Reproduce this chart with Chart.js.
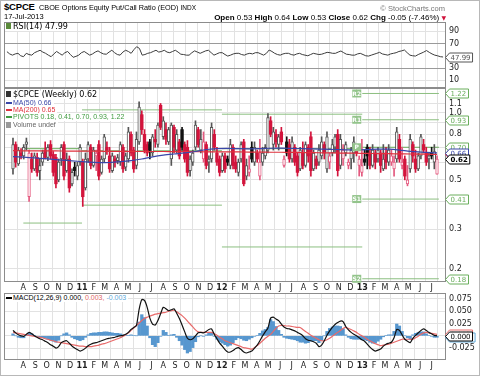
<!DOCTYPE html>
<html>
<head>
<meta charset="utf-8">
<title>$CPCE weekly</title>
<script src="https://cdn.jsdelivr.net/npm/chart.js@4.4.1/dist/chart.umd.min.js"></script>
<style>
  html, body { margin: 0; padding: 0; background: #fff; }
  #wrap { position: relative; width: 480px; height: 376px; overflow: hidden; background: #fff; }
  #wrap canvas { position: absolute; left: 0; }
  .frame { position: absolute; left: 0; top: 0; width: 478px; height: 374px; border: 1px solid #b8b8b8; }
  .t { position: absolute; white-space: nowrap; font-family: 'Liberation Sans', Arial, sans-serif; color: #000; line-height: 1; }
  .lg { position: absolute; white-space: nowrap; line-height: 8px; height: 8px; background: #fff; padding-right: 2px; font-family: 'Liberation Sans', Arial, sans-serif; font-size: 7px; }
  .dash { display: inline-block; width: 6px; height: 2px; vertical-align: middle; margin: 0 1px 1px 0; }
  .ico { display: inline-block; width: 5px; height: 6px; vertical-align: middle; margin: 0 2px 1px 0; }
</style>
</head>
<body>
<div id="wrap">
  <div class="frame"></div>
  <canvas id="rsi" width="480" height="66" style="top:22px"></canvas>
  <canvas id="price" width="480" height="206" style="top:88px"></canvas>
  <canvas id="macd" width="480" height="81" style="top:293px"></canvas>

  <div class="t" style="left:4px;top:2px;font-weight:bold;font-size:9.5px;letter-spacing:-0.2px;">$CPCE</div>
  <div class="t" style="left:39px;top:4px;font-size:7.3px;">CBOE Options Equity Put/Call Ratio (EOD) <span style="font-size:6.5px">INDX</span></div>
  <div class="t" style="left:4px;top:13px;font-size:7.5px;">17-Jul-2013</div>
  <div class="t" style="right:35px;top:5px;font-size:7.5px;color:#777;">&copy; StockCharts.com</div>
  <div class="t" style="right:34px;top:14px;font-size:8px;"><b>Open</b> 0.53 <b>High</b> 0.64 <b>Low</b> 0.53 <b>Close</b> 0.62 <b>Chg</b> -0.05 (-7.46%) <span style="color:#d0103a;font-family:'DejaVu Sans';font-size:6px">&#9660;</span></div>

  <div class="lg" style="left:6px;top:23px;font:8px 'DejaVu Sans';line-height:8px;"><span class="ico" style="background:#5a8a3a"></span>RSI(14) 47.99</div>
  <div class="lg" style="left:6px;top:91px;font:8px 'DejaVu Sans';line-height:8px;"><span class="ico" style="background:#333"></span>$CPCE (Weekly) 0.62</div>
  <div class="lg" style="left:6px;top:99px;color:#3a46a8;"><span class="dash" style="background:#3a46a8"></span>MA(50) 0.66</div>
  <div class="lg" style="left:6px;top:106px;color:#e0303c;"><span class="dash" style="background:#e0303c"></span>MA(200) 0.65</div>
  <div class="lg" style="left:6px;top:113px;color:#3f9a3f;"><span class="dash" style="background:#3f9a3f"></span>PIVOTS 0.18, 0.41, 0.70, 0.93, 1.22</div>
  <div class="lg" style="left:6px;top:121px;color:#666;"><span class="ico" style="background:#999"></span>Volume undef</div>
  <div class="lg" style="left:6px;top:294px;"><span class="dash" style="background:#000"></span>MACD(12,26,9) 0.000, <span style="color:#e06868">0.003,</span> <span style="color:#5fa8d8">-0.003</span></div>
</div>

<script>
// weekly bars, first bar = week of 5 Jul 2010
const firstWeek = Date.UTC(2010, 6, 5);

const opens = [
  .56,.72,.59,.66,.64,.72,.42,.62,.56,.63,
  .55,.60,.68,.63,.72,.65,.63,.50,.62,.72,
  .55,.62,.48,.57,.52,.60,.60,.46,.62,.70,
  .58,.64,.72,.54,.62,.70,.64,.55,.62,.61,
  .60,.70,.57,.62,.80,.68,.58,.74,.98,.80,
  .72,.74,.66,.76,.72,1.08,.78,.84,.74,.62,
  .86,.68,.74,.84,.72,.70,.55,.60,.70,.84,
  .68,.62,.72,.60,.62,.80,.66,.62,.55,.64,
  .62,.58,.70,.60,.54,.62,.74,.52,.54,.70,
  .60,.66,.52,.60,.64,.68,.92,.72,.80,.72,
  .82,.58,.74,.72,.62,.70,.64,.56,.66,.58,
  .70,.78,.56,.62,.60,.64,.72,.56,.60,.66,
  .70,.80,.58,.62,.66,.58,.62,.66,.70,.58,
  .54,.62,.70,.66,.58,.66,.62,.66,.56,.66,
  .60,.60,.56,.62,.76,.58,.62,.48,.56,.72,
  .62,.56,.64,.72,.66,.62,.66,.60,.53
];
const highs = [
  .77,.74,.70,.69,.72,.77,.68,.66,.66,.66,
  .62,.68,.74,.72,.75,.67,.65,.62,.72,.74,
  .66,.64,.56,.60,.60,.72,.62,.66,.74,.72,
  .70,.68,.75,.64,.80,.74,.70,.66,.64,.65,
  .74,.72,.66,.86,.82,.70,.82,1.12,1.02,.84,
  .74,.76,.80,.84,.90,1.10,.96,.90,.86,.90,
  .88,.84,.76,.86,.74,.75,.64,.68,.92,.86,
  .84,.82,.74,.64,.90,.84,.70,.64,.66,.66,
  .64,.76,.72,.64,.62,.74,.76,.62,.64,.74,
  .74,.68,.76,.70,.72,.99,.96,.86,.84,.80,
  .86,.64,.78,.76,.78,.72,.66,.70,.74,.74,
  .72,.82,.68,.64,.72,.78,.74,.82,.66,.76,
  .80,.84,.80,.72,.74,.62,.70,.78,.72,.64,
  .76,.68,.72,.70,.72,.68,.70,.68,.72,.70,
  .72,.68,.64,.86,.80,.70,.64,.58,.80,.74,
  .68,.66,.80,.76,.70,.66,.70,.72,.64
];
const lows = [
  .53,.57,.58,.62,.62,.68,.40,.54,.55,.52,
  .50,.58,.62,.61,.62,.52,.46,.49,.58,.50,
  .54,.44,.47,.52,.50,.58,.38,.45,.60,.56,
  .57,.55,.50,.53,.60,.65,.54,.54,.57,.59,
  .58,.54,.55,.60,.64,.54,.56,.72,.80,.66,
  .64,.62,.64,.70,.70,.84,.76,.72,.72,.58,
  .66,.66,.62,.68,.60,.52,.52,.58,.68,.70,
  .66,.60,.56,.54,.60,.68,.58,.52,.54,.54,
  .58,.56,.56,.54,.52,.60,.47,.50,.52,.60,
  .58,.60,.50,.58,.62,.66,.78,.68,.70,.68,
  .72,.57,.64,.60,.60,.58,.52,.55,.56,.57,
  .60,.52,.55,.56,.58,.62,.62,.54,.56,.64,
  .66,.52,.56,.58,.64,.56,.56,.60,.64,.52,
  .52,.58,.56,.56,.57,.56,.60,.54,.55,.56,
  .58,.58,.52,.60,.60,.56,.50,.47,.54,.60,
  .54,.55,.62,.66,.58,.56,.62,.56,.53
];
const closes = [
  .72,.60,.68,.64,.70,.74,.66,.56,.64,.54,
  .58,.66,.63,.70,.64,.54,.48,.60,.70,.52,
  .62,.46,.54,.55,.58,.70,.42,.62,.72,.58,
  .68,.66,.52,.62,.78,.68,.56,.64,.60,.63,
  .72,.56,.64,.82,.66,.56,.76,1.06,.84,.68,
  .66,.68,.78,.74,.88,.86,.92,.76,.84,.88,
  .70,.80,.64,.70,.62,.54,.62,.66,.88,.72,
  .76,.74,.58,.62,.86,.70,.60,.54,.64,.56,
  .60,.72,.58,.56,.60,.72,.48,.58,.56,.62,
  .70,.62,.60,.66,.70,.95,.80,.82,.74,.78,
  .74,.62,.66,.62,.74,.60,.54,.68,.58,.72,
  .64,.55,.66,.58,.68,.74,.66,.78,.64,.72,
  .78,.55,.76,.68,.72,.60,.68,.74,.66,.62,
  .58,.60,.64,.58,.68,.60,.68,.58,.62,.60,
  .68,.64,.60,.82,.62,.60,.52,.50,.76,.64,
  .56,.64,.78,.68,.60,.64,.64,.67,.62
];

// moving averages, one reading every 4 weeks (last one on the final bar)
const maStep = 4;
const ma50 = [
  .636,.632,.627,.622,.616,.611,.606,.600,.597,.598,
  .603,.610,.620,.634,.645,.653,.660,.670,.684,.690,
  .692,.690,.689,.690,.693,.694,.692,.690,.688,.686,
  .684,.682,.681,.683,.686,.686,.680,.671,.666,.662,.660
];
const ma200 = [
  .676,.675,.675,.674,.674,.673,.673,.672,.672,.671,
  .671,.671,.670,.670,.670,.669,.669,.669,.668,.668,
  .667,.667,.666,.666,.665,.665,.664,.663,.662,.661,
  .660,.659,.658,.657,.656,.655,.654,.653,.652,.651,.650
];

// yearly pivot levels
const pivotYears = [2010, 2011, 2012, 2013];
const pivotR2 = [null, null, null, 1.22];
const pivotR1 = [0.99, 1.03, 0.985, 0.93];
const pivotP  = [0.69, 0.675, 0.69, 0.70];
const pivotS1 = [0.32, 0.385, 0.25, 0.41];
const pivotS2 = [null, null, null, 0.18];

const rsi = [
  56.7,53,51,53,54,50,48.5,54,52,51,
  55,57,59,56,54,51,48.5,53,57,54,
  51,55,57,52,47.5,49,51,55,57,54,
  51,53,56,58,55,53,52.5,56,59,55,
  52,51,56,59,57,54,60,64.8,62,51,
  52,54,55,57,59,56,57,59,56,55,
  57,59,56,52.5,52,51,51,55,58,56,
  54,56,58,59,55,51,53,55,55,52,
  49.5,51,53,54,54,52,51,53,54,53,
  55,55,53,51,54,59.4,57,54,52,51,
  53,54,54,52,51,53,54,52,51,50,
  52,54,53,52,52.5,54,55.6,55,54,54,
  56,57.8,55,52.5,52,51,51,53,54,52,
  50,49.5,51,52.5,54,55.6,53,52,51,53,
  54,55,57,58,59.4,55,51,50,49.5,52,
  54,56,58.5,55.6,53,51,50,48.5,47.99
];

const macdLine = [
  .011,.006,.002,.000,-.001,.003,.007,.004,.000,-.003,
  -.006,-.008,-.011,-.014,-.018,-.021,-.025,-.022,-.014,-.011,
  -.010,-.015,-.021,-.025,-.028,-.031,-.029,-.025,-.020,-.017,
  -.015,-.014,-.012,-.010,-.008,-.006,-.005,-.004,-.003,-.001,
  .000,.001,.003,.007,.013,.017,.021,.054,.074,.072,
  .058,.036,.024,.022,.031,.045,.058,.055,.051,.053,
  .055,.046,.035,.022,.008,-.005,-.008,-.006,.000,.006,
  .007,.006,.009,.013,.014,.003,-.006,-.015,-.021,-.028,
  -.033,-.033,-.030,-.026,-.024,-.028,-.033,-.035,-.033,-.031,
  -.025,-.019,-.010,.000,.008,.016,.036,.038,.034,.031,
  .024,.018,.015,.014,.012,.010,.007,.004,.000,-.006,
  -.009,-.010,-.012,-.015,-.022,-.019,-.010,.001,.010,.017,
  .023,.027,.030,.029,.019,.012,.007,.003,.000,-.004,
  -.008,-.011,-.017,-.023,-.028,-.031,-.029,-.027,-.021,-.017,
  -.015,-.013,-.004,.013,.011,.002,-.007,-.011,-.014,-.005,
  .001,.006,.011,.014,.011,.007,.004,.001,.000
];
const macdSignal = [
  .007,.006,.005,.004,.003,.002,.001,.000,-.001,-.002,
  -.003,-.004,-.006,-.007,-.009,-.010,-.012,-.013,-.014,-.015,
  -.016,-.017,-.018,-.019,-.020,-.021,-.021,-.022,-.022,-.022,
  -.021,-.020,-.019,-.017,-.016,-.014,-.012,-.010,-.008,-.006,
  -.004,-.001,.002,.006,.011,.016,.021,.026,.031,.035,
  .038,.040,.042,.044,.045,.046,.047,.048,.050,.051,
  .052,.049,.045,.041,.036,.030,.024,.018,.012,.008,
  .007,.007,.007,.007,.007,.004,.001,-.003,-.006,-.010,
  -.012,-.014,-.016,-.018,-.020,-.022,-.024,-.025,-.026,-.027,
  -.024,-.020,-.015,-.010,-.005,-.001,.003,.009,.015,.020,
  .021,.021,.020,.020,.019,.018,.017,.017,.013,.009,
  .005,.001,-.002,-.005,-.008,-.010,-.010,-.008,-.005,-.001,
  .003,.007,.011,.015,.017,.015,.013,.010,.007,.003,
  .000,-.003,-.007,-.010,-.013,-.016,-.018,-.020,-.019,-.018,
  -.017,-.015,-.013,-.011,-.009,-.007,-.007,-.007,-.007,-.007,
  -.004,-.001,.003,.006,.007,.006,.005,.004,.003
];
const macdHist = [
  .004,.000,-.003,-.004,-.004,.001,.006,.004,.001,-.001,
  -.003,-.004,-.005,-.007,-.009,-.011,-.013,-.009,.000,.004,
  .006,.002,-.003,-.006,-.008,-.010,-.008,-.003,.002,.005,
  .006,.006,.007,.007,.008,.008,.007,.006,.005,.005,
  .004,.002,.001,.001,.002,.001,.000,.028,.043,.037,
  .020,-.004,-.018,-.022,-.014,-.001,.011,.007,.001,.002,
  .003,-.003,-.010,-.019,-.028,-.035,-.032,-.024,-.012,-.002,
  .000,-.001,.002,.006,.007,-.001,-.007,-.012,-.015,-.018,
  -.021,-.019,-.014,-.008,-.004,-.006,-.009,-.010,-.007,-.004,
  -.001,.001,.005,.010,.013,.017,.033,.029,.019,.011,
  .003,-.003,-.005,-.006,-.007,-.008,-.010,-.013,-.013,-.015,
  -.014,-.011,-.010,-.010,-.014,-.009,.000,.009,.015,.018,
  .020,.020,.019,.014,.002,-.003,-.006,-.007,-.007,-.007,
  -.008,-.008,-.010,-.013,-.015,-.015,-.011,-.007,-.002,.001,
  .002,.002,.009,.024,.020,.009,.000,-.004,-.007,.002,
  .005,.007,.008,.008,.004,.001,-.001,-.003,-.003
];

const priceGrid = [1.1, 1.0, 0.9, 0.8, 0.7, 0.6, 0.5, 0.4, 0.3, 0.2];
const priceLabels = [1.1, 1.0, 0.8, 0.5, 0.3, 0.2];
const rsiTicks = [10, 30, 70, 90];
const macdTicks = [-0.025, 0, 0.025, 0.05, 0.075];

const X_MIN = -0.7, X_MAX = 158.7;
const WEEK = 7 * 86400000;
const lastBar = closes.length - 1;

// month grid: Aug 2010 .. Jul 2013
const monthTicks = [];
for (let k = 0; k < 36; k++) {
  const d = new Date(Date.UTC(2010, 7 + k, 1));
  const m = d.getUTCMonth();
  monthTicks.push({
    pos: (d - firstWeek) / WEEK,
    label: m === 0 ? String(d.getUTCFullYear()).slice(2) : 'JFMAMJJASOND'[m],
    year: m === 0
  });
}
const yearStart = (y) => (Date.UTC(y, 0, 1) - firstWeek) / WEEK;

const GRID = '#e2e2e2';
const AXIS_FONT = { family: 'DejaVu Sans', size: 8 };

function xAxis(labels) {
  return {
    type: 'linear', min: X_MIN, max: X_MAX, bounds: 'data',
    afterBuildTicks: (ax) => { ax.ticks = monthTicks.map(t => ({ value: t.pos })); },
    afterFit: (ax) => { ax.height = labels; ax.paddingLeft = 0; ax.paddingRight = 0; },
    grid: { color: GRID, drawTicks: false },
    border: { display: false },
    ticks: {
      display: labels > 0, autoSkip: false, maxRotation: 0, padding: 1, color: '#222',
      font: (c) => ({ family: 'DejaVu Sans', size: 8, weight: monthTicks[c.index] && monthTicks[c.index].year ? 'bold' : 'normal' }),
      callback: (v, i) => monthTicks[i].label
    }
  };
}

function yAxis(extra) {
  return Object.assign({
    position: 'right',
    afterFit: (ax) => { ax.width = 35; ax.paddingTop = 0; ax.paddingBottom = 0; },
    grid: { color: GRID, drawTicks: false },
    border: { display: false },
    ticks: { padding: 4, color: '#222', font: AXIS_FONT, autoSkip: false }
  }, extra);
}

// plot frame + right-hand value tags + pivot names
const panelPlugin = {
  id: 'panel',
  afterDraw(chart, args, opts) {
    const { ctx, chartArea: a } = chart;
    const y = chart.scales.y;
    ctx.save();
    ctx.strokeStyle = '#8c8c8c';
    ctx.lineWidth = 1;
    ctx.strokeRect(a.left - 0.5, a.top + 0.5, a.right - a.left + 1, a.bottom - a.top - 1);

    (opts.names || []).forEach(n => {
      const py = y.getPixelForValue(n.value);
      ctx.fillStyle = '#93c48b';
      ctx.fillRect(n.x - 10, py - 4, 9, 8);
      ctx.fillStyle = '#fff';
      ctx.font = 'bold 6px "DejaVu Sans"';
      ctx.textAlign = 'center';
      ctx.textBaseline = 'middle';
      ctx.fillText(n.text, n.x - 5.5, py + 0.5);
    });

    (opts.tags || []).forEach(t => {
      const py = Math.round(y.getPixelForValue(t.value)) + 0.5;
      ctx.font = (t.bold ? 'bold ' : '') + '7px "DejaVu Sans"';
      const w = Math.max(19, ctx.measureText(t.text).width + 3);
      const x0 = a.right + 0.5, x1 = x0 + 4 + w, h = 4.5;
      ctx.beginPath();
      ctx.moveTo(x0, py);
      ctx.lineTo(x0 + 4, py - h);
      ctx.lineTo(x1, py - h);
      ctx.lineTo(x1, py + h);
      ctx.lineTo(x0 + 4, py + h);
      ctx.closePath();
      ctx.fillStyle = '#fff';
      ctx.fill();
      ctx.strokeStyle = t.color;
      ctx.stroke();
      ctx.fillStyle = t.color;
      ctx.textAlign = 'left';
      ctx.textBaseline = 'middle';
      ctx.fillText(t.text, x0 + 5, py + 0.5);
    });
    ctx.restore();
  }
};

const baseOptions = {
  responsive: false,
  animation: false,
  events: [],
  layout: { padding: { left: 5, right: 0, top: 0, bottom: 0 } }
};

// ---- RSI panel ----
new Chart(document.getElementById('rsi'), {
  type: 'line',
  data: {
    datasets: [{
      data: rsi.map((v, i) => ({ x: i, y: v })),
      borderColor: '#3c3c3c', borderWidth: 1, pointRadius: 0, tension: 0
    }]
  },
  options: Object.assign({}, baseOptions, {
    scales: {
      x: xAxis(0),
      y: yAxis({
        type: 'linear', min: -2.6, max: 105.1,
        afterBuildTicks: (ax) => { ax.ticks = rsiTicks.map(v => ({ value: v })); },
        grid: { drawTicks: false, color: (c) => (c.tick && (c.tick.value === 30 || c.tick.value === 70)) ? '#9a9a9a' : GRID }
      })
    },
    plugins: {
      legend: { display: false }, tooltip: { enabled: false },
      panel: { tags: [{ value: 47.99, text: '47.99', color: '#555' }] }
    }
  }),
  plugins: [panelPlugin]
});

// ---- price panel ----
const bodyFill = [], bodyLine = [], bodyWidth = [], wickFill = [];
closes.forEach((c, i) => {
  const o = opens[i];
  const prev = i ? closes[i - 1] : o;
  const red = c < prev;
  const hollow = c > o;
  const col = red ? (hollow ? '#e4587e' : '#d3143c') : (hollow ? '#555' : '#111');
  bodyFill.push(hollow ? '#ffffff' : col);
  bodyLine.push(col);
  bodyWidth.push(hollow ? 1 : 0);
  wickFill.push(col);
});

const pivotSets = [];
const levels = [
  { vals: pivotR2, name: 'R2' }, { vals: pivotR1, name: 'R1' }, { vals: pivotP, name: 'P' },
  { vals: pivotS1, name: 'S1' }, { vals: pivotS2, name: 'S2' }
];
pivotYears.forEach((yr, k) => {
  const start = k === 0 ? monthTicks[0].pos : yearStart(yr);
  const end = k === pivotYears.length - 1 ? X_MAX : yearStart(yr + 1);
  levels.forEach(l => {
    const v = l.vals[k];
    if (v == null) return;
    pivotSets.push({
      type: 'line', order: 5,
      data: [{ x: start, y: v }, { x: end, y: v }],
      borderColor: l.name === 'P' ? '#6aae5c' : '#8cbf80', borderWidth: 1, pointRadius: 0
    });
  });
});

const maPoints = (arr) => arr.map((v, k) => ({ x: Math.min(k * maStep, lastBar), y: v }));
const lastYearIdx = pivotYears.length - 1;

new Chart(document.getElementById('price'), {
  type: 'bar',
  data: {
    datasets: pivotSets.concat([
      {
        type: 'bar', order: 4, grouped: false,
        data: closes.map((c, i) => ({ x: i, y: [lows[i], highs[i]] })),
        backgroundColor: wickFill, barThickness: 1, borderWidth: 0
      },
      {
        type: 'bar', order: 3, grouped: false,
        data: closes.map((c, i) => ({ x: i, y: [opens[i], c] })),
        backgroundColor: bodyFill, borderColor: bodyLine, borderWidth: bodyWidth,
        borderSkipped: false, barThickness: 2.7, minBarLength: 1
      },
      {
        type: 'line', order: 2, data: maPoints(ma200),
        borderColor: '#e0303c', borderWidth: 1.2, pointRadius: 0, tension: 0.3
      },
      {
        type: 'line', order: 1, data: maPoints(ma50),
        borderColor: '#3a46a8', borderWidth: 1.2, pointRadius: 0, tension: 0.3
      }
    ])
  },
  options: Object.assign({}, baseOptions, {
    scales: {
      x: xAxis(12),
      y: yAxis({
        type: 'logarithmic', min: 0.1741, max: 1.291,
        afterBuildTicks: (ax) => { ax.ticks = priceGrid.map(v => ({ value: v })); },
        ticks: {
          padding: 4, color: '#222', font: AXIS_FONT, autoSkip: false,
          callback: (v) => priceLabels.includes(v) ? v.toFixed(1) : ''
        }
      })
    },
    plugins: {
      legend: { display: false }, tooltip: { enabled: false },
      panel: {
        names: levels.filter(l => l.vals[lastYearIdx] != null)
          .map(l => ({ value: l.vals[lastYearIdx], text: l.name, x: 0 })),
        tags: [
          { value: pivotR2[lastYearIdx], text: '1.22', color: '#6aae5c' },
          { value: pivotR1[lastYearIdx], text: '0.93', color: '#6aae5c' },
          { value: pivotS1[lastYearIdx], text: '0.41', color: '#6aae5c' },
          { value: pivotS2[lastYearIdx], text: '0.18', color: '#6aae5c' },
          { value: pivotP[lastYearIdx], text: '0.70', color: '#6aae5c' },
          { value: ma200[ma200.length - 1], text: '0.65', color: '#e0303c' },
          { value: ma50[ma50.length - 1], text: '0.66', color: '#3a46a8' },
          { value: closes[lastBar], text: '0.62', color: '#000', bold: true }
        ]
      }
    }
  }),
  plugins: [{
    id: 'pivotNameX',
    beforeDraw(chart) {
      const px = chart.scales.x.getPixelForValue(yearStart(pivotYears[lastYearIdx]));
      chart.options.plugins.panel.names.forEach(n => { n.x = px; });
    }
  }, panelPlugin]
});

// ---- MACD panel ----
new Chart(document.getElementById('macd'), {
  type: 'bar',
  data: {
    datasets: [
      {
        type: 'bar', order: 3, grouped: false,
        data: macdHist.map((v, i) => ({ x: i, y: v })),
        backgroundColor: '#5797cf', borderWidth: 0, barThickness: 2.6
      },
      {
        type: 'line', order: 2, data: macdSignal.map((v, i) => ({ x: i, y: v })),
        borderColor: '#e86a6a', borderWidth: 1.2, pointRadius: 0, tension: 0.3
      },
      {
        type: 'line', order: 1, data: macdLine.map((v, i) => ({ x: i, y: v })),
        borderColor: '#111', borderWidth: 1.2, pointRadius: 0, tension: 0.2
      }
    ]
  },
  options: Object.assign({}, baseOptions, {
    scales: {
      x: xAxis(14),
      y: yAxis({
        type: 'linear', min: -0.0492, max: 0.0871,
        afterBuildTicks: (ax) => { ax.ticks = macdTicks.map(v => ({ value: v })); },
        ticks: {
          padding: 4, color: '#222', font: AXIS_FONT, autoSkip: false,
          callback: (v) => v.toFixed(3)
        }
      })
    },
    plugins: {
      legend: { display: false }, tooltip: { enabled: false },
      panel: {
        tags: [
          { value: macdSignal[lastBar], text: '0.003', color: '#e86a6a' },
          { value: macdHist[lastBar], text: '-0.003', color: '#5fa8d8' },
          { value: macdLine[lastBar], text: '0.000', color: '#000' }
        ]
      }
    }
  }),
  plugins: [panelPlugin]
});
</script>
</body>
</html>
